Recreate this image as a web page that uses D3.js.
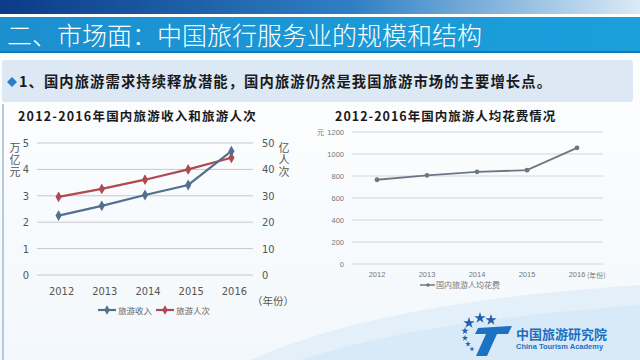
<!DOCTYPE html>
<html><head><meta charset="utf-8">
<script src="https://cdn.jsdelivr.net/npm/d3@7/dist/d3.min.js"></script>
<style>html,body{margin:0;padding:0;background:#fff;}svg{display:block;}</style>
</head><body>
<svg id="c" width="640" height="360"></svg>
<script>
const years = ["2012","2013","2014","2015","2016"];
const revenue = [2.25, 2.62, 3.03, 3.41, 4.69];      // 万亿元
const trips = [29.6, 32.6, 36.1, 40.0, 44.4];         // 亿人次
const perCapita = [766, 806, 838, 853, 1056];         // 元
const leftTicks = [0,1,2,3,4,5];
const rightTicks = [0,10,20,30,40,50];
const pcTicks = [0,200,400,600,800,1000,1200];

const font = '"Noto Sans CJK SC","Noto Sans",sans-serif';
const narrow = "'Liberation Sans Narrow','DejaVu Sans Condensed',sans-serif";
const svg = d3.select("#c");
const defs = svg.append("defs");
const g1 = defs.append("linearGradient").attr("id","topg");
g1.append("stop").attr("offset","0").attr("stop-color","#0b3b86");
g1.append("stop").attr("offset","0.55").attr("stop-color","#2f7fc4");
g1.append("stop").attr("offset","1").attr("stop-color","#dbeaf6");
const g2 = defs.append("linearGradient").attr("id","bandg");
g2.append("stop").attr("offset","0").attr("stop-color","#1c8fcf");
g2.append("stop").attr("offset","1").attr("stop-color","#1aa0dc");
const g3 = defs.append("linearGradient").attr("id","bgg").attr("x1","0").attr("y1","0").attr("x2","0").attr("y2","1");
g3.append("stop").attr("offset","0").attr("stop-color","#ffffff");
g3.append("stop").attr("offset","1").attr("stop-color","#f3f8fc");

// background
svg.append("rect").attr("width",640).attr("height",360).attr("fill","url(#bgg)");
svg.append("path").attr("d","M250,360 C320,330 420,300 640,285 L640,360 Z").attr("fill","#e3f0fa");
svg.append("path").attr("d","M300,360 C380,335 470,318 640,305 L640,360 Z").attr("fill","#d3e7f6").attr("opacity",0.7);
svg.append("rect").attr("x",2).attr("y",104).attr("width",2).attr("height",256).attr("fill","#b7c9dc");

// top band
svg.append("rect").attr("x",0).attr("y",0).attr("width",640).attr("height",14).attr("fill","url(#topg)");
svg.append("rect").attr("x",0).attr("y",17).attr("width",640).attr("height",36).attr("fill","url(#bandg)");
svg.append("rect").attr("x",0).attr("y",51).attr("width",640).attr("height",2).attr("fill","#1479b4");
svg.append("text").attr("x",7).attr("y",45).attr("fill","#ffffff")
  .attr("font-family",font).attr("font-size",25).attr("font-weight",300)
  .text("二、市场面：中国旅行服务业的规模和结构");

// bullet box
svg.append("rect").attr("x",2).attr("y",60).attr("width",631).attr("height",42).attr("rx",3).attr("fill","#dde8f5");
svg.append("path").attr("d","M7,82 L12,77 L17,82 L12,87 Z").attr("fill","#2a7fc4");
svg.append("text").attr("x",19).attr("y",87).attr("fill","#1a1a1a")
  .attr("font-family",font).attr("font-size",14.3).attr("font-weight",700).attr("letter-spacing",1.1)
  .text("1、国内旅游需求持续释放潜能，国内旅游仍然是我国旅游市场的主要增长点。");

// ---------- Left chart ----------
svg.append("text").attr("x",18).attr("y",121).attr("fill","#1a1a1a")
  .attr("font-family",font).attr("font-size",12.5).attr("font-weight",700).attr("letter-spacing",1.2)
  .text("2012-2016年国内旅游收入和旅游人次");

const x1 = d3.scaleBand().domain(years).range([37,253]);
const yL = d3.scaleLinear().domain([0,5]).range([275,143]);
const yR = d3.scaleLinear().domain([0,50]).range([275,143]);
const L = svg.append("g");
L.selectAll(".gl").data(leftTicks).join("line")
  .attr("x1",37).attr("x2",253).attr("y1",d=>yL(d)).attr("y2",d=>yL(d))
  .attr("stroke","#c8c8c8").attr("stroke-width",1);
const axL = d3.axisLeft(yL).tickValues(leftTicks).tickFormat(d3.format("d")).tickSize(0).tickPadding(0);
const gL = L.append("g").attr("transform","translate(29,0)").call(axL);
gL.select(".domain").remove();
gL.selectAll("text").attr("font-family",narrow).attr("font-size",11).attr("fill","#555");
const axR = d3.axisRight(yR).tickValues(rightTicks).tickFormat(d3.format("d")).tickSize(0).tickPadding(0);
const gR = L.append("g").attr("transform","translate(262,0)").call(axR);
gR.select(".domain").remove();
gR.selectAll("text").attr("font-family",narrow).attr("font-size",11).attr("fill","#555");
const axX1 = d3.axisBottom(x1).tickSize(0).tickPadding(0);
const gX1 = L.append("g").attr("transform","translate(3,287)").call(axX1);
gX1.select(".domain").remove();
gX1.selectAll("text").attr("font-family",narrow).attr("font-size",11).attr("fill","#555");

// vertical unit labels
L.append("text").attr("x",15).attr("y",142).attr("writing-mode","tb").attr("letter-spacing",1)
  .attr("font-family",font).attr("font-size",11).attr("fill","#555").text("万亿元");
L.append("text").attr("x",284).attr("y",142).attr("writing-mode","tb").attr("letter-spacing",1)
  .attr("font-family",font).attr("font-size",11).attr("fill","#555").text("亿人次");
L.append("text").attr("x",252).attr("y",305).attr("font-family",font).attr("font-size",10.5).attr("fill","#555").text("（年份）");

const cx1 = d=>x1(d)+x1.bandwidth()/2;
const blue = "#53708f", red = "#ae4a50";
function series(g, data, xs, ys, color, w, r){
  g.append("path").datum(data).attr("fill","none").attr("stroke",color).attr("stroke-width",w)
    .attr("d",d3.line().x((d,i)=>xs(years[i])).y(d=>ys(d)));
  g.selectAll(null).data(data).join("path")
    .attr("d",d3.symbol().type(d3.symbolDiamond).size(r))
    .attr("transform",(d,i)=>`translate(${xs(years[i])},${ys(d)})`).attr("fill",color);
}
series(L, trips, cx1, yR, red, 2.2, 34);
series(L, revenue, cx1, yL, blue, 2.2, 34);

const leg = [{t:"旅游收入",c:blue,x:98},{t:"旅游人次",c:red,x:156}];
leg.forEach(l=>{
  L.append("line").attr("x1",l.x).attr("x2",l.x+18).attr("y1",310).attr("y2",310).attr("stroke",l.c).attr("stroke-width",2.2);
  L.append("path").attr("d",d3.symbol().type(d3.symbolDiamond).size(26)).attr("transform",`translate(${l.x+9},310)`).attr("fill",l.c);
  L.append("text").attr("x",l.x+20).attr("y",313.5).attr("font-family",font).attr("font-size",8.5).attr("fill","#666").text(l.t);
});

// ---------- Right chart ----------
svg.append("text").attr("x",335).attr("y",121).attr("fill","#1a1a1a")
  .attr("font-family",font).attr("font-size",12.5).attr("font-weight",700).attr("letter-spacing",1)
  .text("2012-2016年国内旅游人均花费情况");
const x2 = d3.scaleBand().domain(years).range([352,602]);
const y2 = d3.scaleLinear().domain([0,1200]).range([264,132]);
const R = svg.append("g");
R.selectAll(".gl").data(pcTicks).join("line")
  .attr("x1",352).attr("x2",603).attr("y1",d=>y2(d)).attr("y2",d=>y2(d))
  .attr("stroke","#d4d4d4").attr("stroke-width",1);
const ax2 = d3.axisLeft(y2).tickValues(pcTicks).tickFormat(d3.format("d")).tickSize(0).tickPadding(0);
const gY2 = R.append("g").attr("transform","translate(344,0)").call(ax2);
gY2.select(".domain").remove();
gY2.selectAll("text").attr("font-family","'Liberation Sans',sans-serif").attr("font-size",7.5).attr("fill","#777");
R.append("text").attr("x",317).attr("y",135).attr("font-family",font).attr("font-size",7).attr("fill","#777").text("元");
const axX2 = d3.axisBottom(x2).tickSize(0).tickPadding(0);
const gX2 = R.append("g").attr("transform","translate(0,272)").call(axX2);
gX2.select(".domain").remove();
gX2.selectAll("text").attr("font-family","'Liberation Sans',sans-serif").attr("font-size",7.5).attr("fill","#777");
R.append("text").attr("x",587).attr("y",278).attr("font-family",font).attr("font-size",7).attr("fill","#777").text("(年份)");
const cx2 = d=>x2(d)+x2.bandwidth()/2;
const gray = "#6b7785";
R.append("path").datum(perCapita).attr("fill","none").attr("stroke",gray).attr("stroke-width",1.8)
  .attr("d",d3.line().x((d,i)=>cx2(years[i])).y(d=>y2(d)));
R.selectAll(null).data(perCapita).join("circle")
  .attr("cx",(d,i)=>cx2(years[i])).attr("cy",d=>y2(d)).attr("r",2.4).attr("fill",gray);
R.append("line").attr("x1",420).attr("x2",435).attr("y1",285).attr("y2",285).attr("stroke",gray).attr("stroke-width",1.5);
R.append("circle").attr("cx",428).attr("cy",285).attr("r",1.8).attr("fill",gray);
R.append("text").attr("x",436).attr("y",288).attr("font-family",font).attr("font-size",8).attr("fill","#777").text("国内旅游人均花费");

// ---------- Logo ----------
const star = d3.symbol().type(d3.symbolStar);
[[469,323,40],[480,318,40],[491,320,40],[465,331,16],[465,338,12],[468,344,10],[472,349,8]].forEach(s=>
  svg.append("path").attr("d",star.size(s[2])).attr("transform",`translate(${s[0]},${s[1]})`).attr("fill","#1f5fae"));
svg.append("path").attr("d","M478,328 L512,326 L508,334 L497,334 L487,356 L476,356 L486,334 L475,334 Z").attr("fill","#1b72c2");
svg.append("text").attr("x",516).attr("y",339).attr("font-family",font).attr("font-size",13).attr("font-weight",700)
  .attr("fill","#1c6fc0").text("中国旅游研究院");
svg.append("text").attr("x",516).attr("y",349).attr("font-family","'Liberation Sans',sans-serif").attr("font-size",7.5).attr("font-weight",700)
  .attr("fill","#1c6fc0").text("China Tourism Academy");
</script>
</body></html>
